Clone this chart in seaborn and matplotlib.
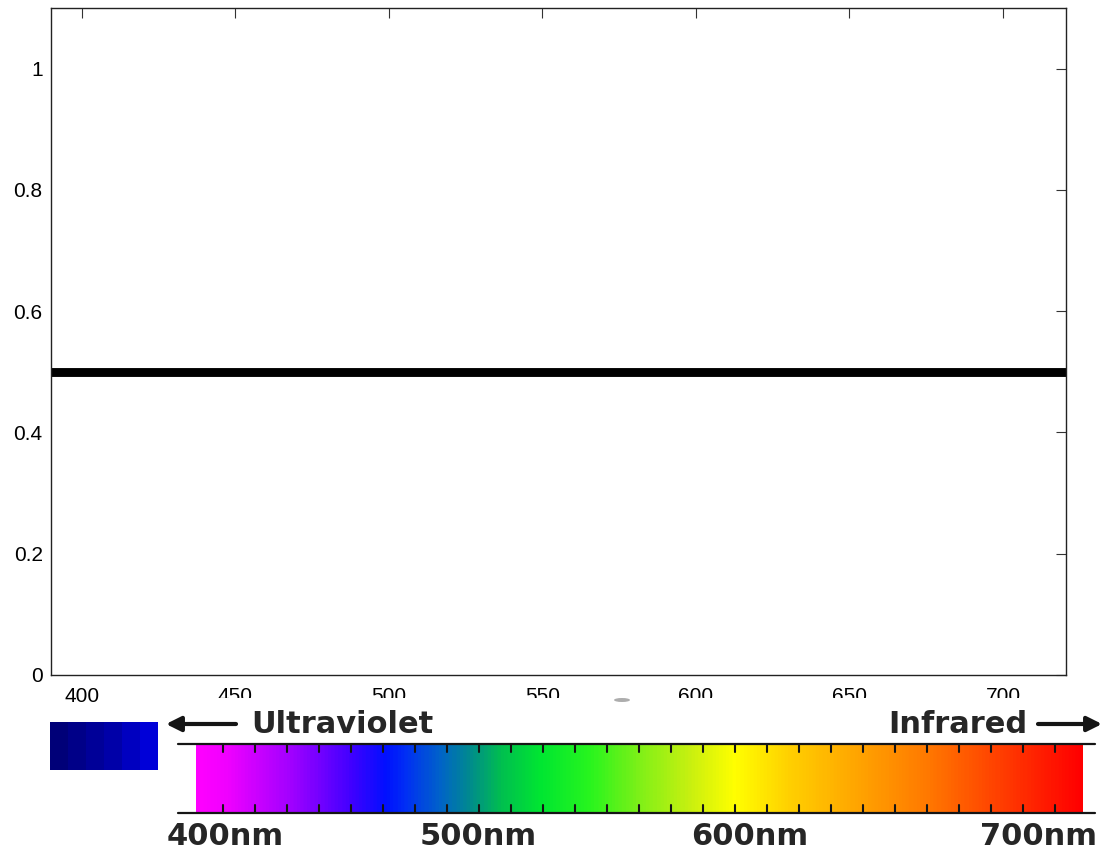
import numpy as np
import matplotlib
matplotlib.use("Agg")
import matplotlib.pyplot as plt
import seaborn as sns
import pandas as pd
from matplotlib.colors import LinearSegmentedColormap, ListedColormap
from matplotlib.patches import Rectangle, Ellipse

# ---- data ----
wavelength = [390, 721]
reflectance = [0.5, 0.5]
x_ticks = [400, 450, 500, 550, 600, 650, 700]
y_ticks = [0, 0.2, 0.4, 0.6, 0.8, 1]
y_tick_labels = ["0", "0.2", "0.4", "0.6", "0.8", "1"]
spectrum_labels = ["400nm", "500nm", "600nm", "700nm"]
band_labels = ["Ultraviolet", "Infrared"]

sns.set_theme(style="white")
plt.rcParams['font.family'] = ['Liberation Sans', 'DejaVu Sans']

W, H = 1103, 852
fig = plt.figure(figsize=(W / 100, H / 100), dpi=100)
fig.patch.set_facecolor("white")

ax = fig.add_axes([51 / W, 1 - 675 / H, (1066 - 51) / W, (675 - 8) / H])
df = pd.DataFrame({"wavelength": wavelength, "reflectance": reflectance})
sns.lineplot(data=df, x="wavelength", y="reflectance", ax=ax, color="black",
             linewidth=6.4, solid_capstyle="butt")
ax.set_xlim(390, 720.5)
ax.set_ylim(0, 1.1)
ax.set_xticks(x_ticks)
ax.set_xticklabels([str(v) for v in x_ticks])
ax.set_yticks(y_ticks)
ax.set_yticklabels(y_tick_labels)
ax.set_xlabel("")
ax.set_ylabel("")
ax.tick_params(direction="in", length=7, width=0.8, color="#333333",
               labelsize=15, labelcolor="black", top=True, right=True)
ax.tick_params(axis="x", pad=9)
ax.tick_params(axis="y", pad=6)
for s in ax.spines.values():
    s.set_color("#222222")
    s.set_linewidth(1.0)
    s.set_visible(True)

# ---- overlay (spectrum picture) in pixel coordinates ----
ov = fig.add_axes([0, 0, 1, 1], zorder=5)
ov.set_xlim(0, W)
ov.set_ylim(H, 0)
ov.set_axis_off()
ov.patch.set_alpha(0)

ov.add_patch(Rectangle((165, 698), W - 165, H - 698, facecolor="white", edgecolor="none", zorder=1))
ov.add_patch(Ellipse((622, 700), 16, 4, facecolor="#777777", edgecolor="none", alpha=0.6, zorder=2))

# dark-blue swatch
blue_cmap = ListedColormap(["#000078", "#000088", "#000098", "#0000a8", "#0000c0", "#0000d8"])
ov.imshow(np.linspace(0, 1, 6)[None, :], extent=(50, 158, 770, 722), cmap=blue_cmap,
          aspect="auto", zorder=2)

# spectrum bar
x0, x1 = 196, 1083
stops_px = [196, 225, 290, 350, 385, 405, 440, 470, 500, 540, 590, 640, 690, 735, 790, 850, 930, 990, 1040, 1083]
stops_col = ["#ff00ff", "#f000ff", "#a000ff", "#4000ff", "#0010ff", "#0030f4", "#0064c8",
             "#008c8c", "#00be50", "#00e632", "#28f51e", "#80f018", "#c8f010", "#ffff00",
             "#ffd000", "#ffaa00", "#ff7800", "#ff4800", "#ff2000", "#ff0000"]
pos = [(p - x0) / (x1 - x0) for p in stops_px]
spec_cmap = LinearSegmentedColormap.from_list("spec", list(zip(pos, stops_col)))
ov.imshow(np.linspace(0, 1, 800)[None, :], extent=(x0, x1, 813, 744), cmap=spec_cmap,
          aspect="auto", zorder=2)
for yy in (744, 813):
    ov.plot([178, 1095], [yy, yy], color="#151515", lw=1.6, zorder=3)
for tx in np.arange(223, 1060, 32):
    ov.plot([tx, tx], [744, 752], color="#151515", lw=1.5, zorder=3)
    ov.plot([tx, tx], [805, 813], color="#151515", lw=1.5, zorder=3)

txt_kw = dict(fontsize=22, fontweight="bold", family="DejaVu Sans", color="#262626", zorder=4)
ov.text(342, 733, band_labels[0], ha="center", va="baseline", **txt_kw)
ov.text(958, 733, band_labels[1], ha="center", va="baseline", **txt_kw)
for lbl, cx in zip(spectrum_labels, [225, 478, 750, 1039]):
    ov.text(cx, 845, lbl, ha="center", va="baseline", **txt_kw)

ov.annotate("", xy=(166, 724), xytext=(236, 724),
            arrowprops=dict(arrowstyle="-|>", lw=3, color="#151515", mutation_scale=22,
                            shrinkA=0, shrinkB=0), zorder=4)
ov.annotate("", xy=(1102, 724), xytext=(1038, 724),
            arrowprops=dict(arrowstyle="-|>", lw=3, color="#151515", mutation_scale=22,
                            shrinkA=0, shrinkB=0), zorder=4)

fig.savefig("out.png", dpi=100, facecolor="white")
